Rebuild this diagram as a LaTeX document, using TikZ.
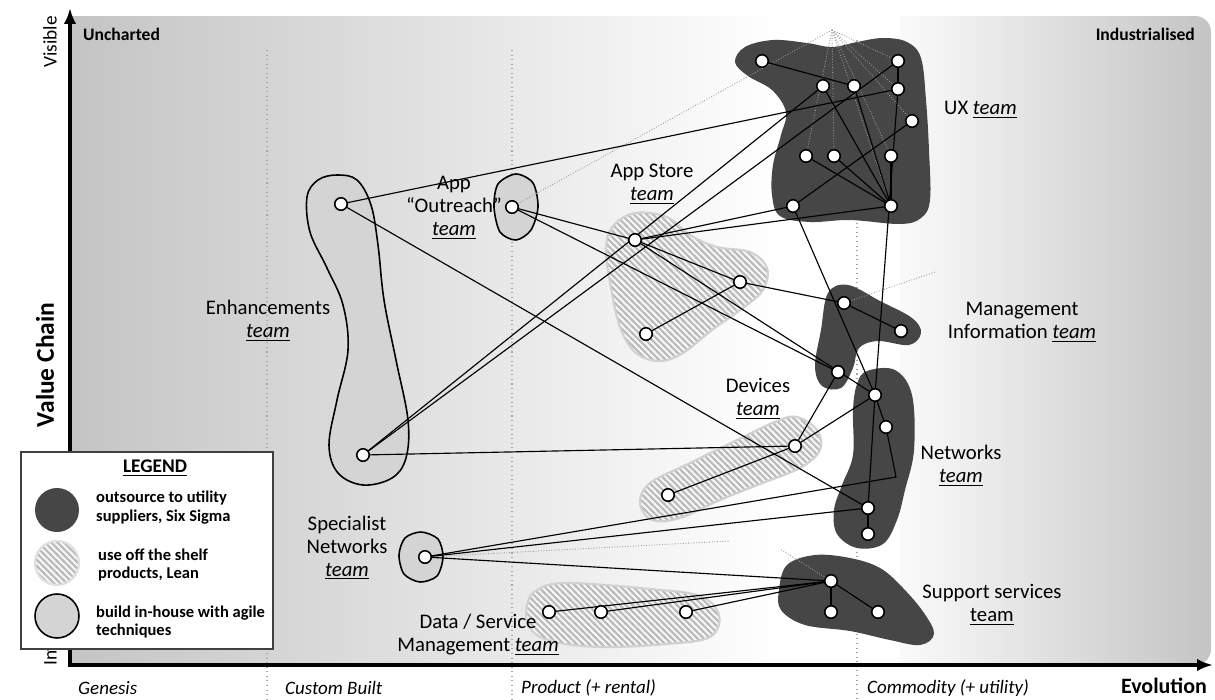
\documentclass[tikz,border=0pt]{standalone}
\usepackage{fontspec}
\setmainfont{Carlito}
\usetikzlibrary{arrows.meta,patterns}
\definecolor{utilgray}{RGB}{70,70,70}
\definecolor{agilegray}{RGB}{212,212,212}
\definecolor{edgegray}{RGB}{196,196,196}
\pgfdeclarepatternformonly{stripes}{\pgfqpoint{-1pt}{-1pt}}{\pgfqpoint{4.6pt}{4.6pt}}{\pgfqpoint{3.6pt}{3.6pt}}{%
  \pgfsetlinewidth{1.1pt}%
  \pgfpathmoveto{\pgfqpoint{-1pt}{4.6pt}}\pgfpathlineto{\pgfqpoint{4.6pt}{-1pt}}%
  \pgfusepath{stroke}}
\newcommand{\teamu}{\underline{\textit{team}}}

\begin{document}
\begin{tikzpicture}[x=0.02cm,y=-0.02cm,
comp/.style={circle,draw=black,line width=0.9pt,fill=white,minimum size=0.25cm,inner sep=0pt},
link/.style={black,line width=0.65pt},
faint/.style={black!40,line width=0.5pt,densely dotted},
stagesep/.style={black!35,line width=0.6pt,dotted},
utility/.style={fill=utilgray},
hatched/.style={preaction={fill=black!4},preaction={pattern=stripes,pattern color=black!27},
draw=black!18,line width=1.2pt},
inhouse/.style={fill=agilegray,draw=black,line width=0.9pt},
lbl/.style={font=\fontsize{11.8}{13}\selectfont,align=center},
stage/.style={font=\fontsize{10.8}{12}\selectfont\itshape,anchor=west},
axisarrow/.style={line width=1.8pt,line cap=rect,-{Latex[length=9pt,width=7pt]}},
legtext/.style={font=\fontsize{9.4}{10.8}\selectfont\bfseries,anchor=west,align=left},
legdot/.style={circle,minimum size=0.88cm,inner sep=0pt}]
\useasboundingbox (0,0) rectangle (1215,700);

% background
\shade[left color=white,right color=edgegray,rounded corners=9pt] (870,16) rectangle (1211,665);
\shade[left color=edgegray,right color=white] (72,16) rectangle (780,665);
\fill[white] (779,16) rectangle (900,665);
\draw[stagesep] (267,50) -- (267,700);
\draw[stagesep] (512,50) -- (512,700);
\draw[stagesep] (857,40) -- (857,700);

% axes
\coordinate (origin) at (70,665);
\draw[axisarrow] (origin) -- (70,8);
\draw[axisarrow] (origin) -- (1213,665);
\node[stage] (genesis) at (72,688) {Genesis};
\node[stage] (custom) at (279,688) {Custom Built};
\node[stage] (product) at (515,688) {Product (+ rental)};
\node[stage] (commodity) at (861,688) {Commodity (+ utility)};
\node[font=\fontsize{12.5}{14}\selectfont\bfseries,anchor=east,inner sep=1pt] (evolution) at (1209,686) {Evolution};
\node[font=\fontsize{10}{12}\selectfont\bfseries,anchor=west] (uncharted) at (77,34) {Uncharted};
\node[font=\fontsize{10}{12}\selectfont\bfseries,anchor=east] (industrial) at (1201,34) {Industrialised};
\node[font=\fontsize{11}{13}\selectfont,rotate=90] (visible) at (50,42) {Visible};
\node[font=\fontsize{11}{13}\selectfont,rotate=90,anchor=west] (invisible) at (50,672) {Invisible};
\node[font=\fontsize{14.5}{16}\selectfont\bfseries,rotate=90] (valuechain) at (45,365) {Value Chain};

% team areas
\fill[utility] plot[smooth cycle,tension=0.6] coordinates {(735,62) (745,47) (773,40) (807,43)
(832,47) (857,42) (883,38) (907,42) (921,58) (926,100) (929,150) (930,200) (921,218) (900,224)
(850,220) (810,222) (780,216) (772,195) (773,165) (781,135) (786,112) (772,90) (748,76)};
\fill[utility] plot[smooth cycle,tension=0.6] coordinates {(828,293) (848,285) (880,301) (912,318)
(921,333) (909,345) (878,341) (859,348) (853,368) (841,388) (822,386) (815,366) (821,330)};
\fill[utility] plot[smooth cycle,tension=0.6] coordinates {(867,371) (895,370) (912,395) (914,450)
(905,490) (897,520) (883,544) (857,548) (837,534) (834,510) (842,485) (853,455) (853,410) (857,384)};
\fill[utility] plot[smooth cycle,tension=0.6] coordinates {(779,590) (787,565) (815,555) (850,558)
(880,568) (903,588) (924,613) (934,634) (920,645) (890,640) (850,631) (805,625) (781,610)};
\path[inhouse] plot[smooth cycle,tension=0.6] coordinates {(337,175) (357,180) (371,205) (378,245)
(384,300) (396,360) (408,420) (406,458) (392,478) (363,485) (338,473) (329,445) (337,400)
(348,350) (343,305) (327,268) (310,232) (307,197) (318,180)};
\path[inhouse] plot[smooth cycle] coordinates {(516,174) (533,183) (538,207) (531,230) (516,240)
(500,232) (494,207) (498,184)};
\path[inhouse] plot[smooth cycle] coordinates {(421,532) (438,539) (443,557) (437,576) (420,582)
(404,574) (399,555) (405,538)};
\path[hatched] plot[smooth cycle,tension=0.6] coordinates {(613,226) (635,213) (667,217) (690,235)
(717,247) (750,252) (767,268) (763,290) (743,308) (712,330) (683,353) (660,361) (636,353)
(620,327) (610,282) (606,248)};
\path[hatched] plot[smooth cycle,tension=0.6] coordinates {(797,417) (817,430) (820,450) (800,468)
(760,484) (720,500) (680,518) (652,520) (640,503) (650,483) (690,463) (737,440) (777,421)};
\path[hatched] plot[smooth cycle,tension=0.6] coordinates {(537,590) (567,583) (650,589) (700,596)
(719,615) (710,637) (667,644) (600,647) (551,641) (529,627) (527,605)};

% components
\coordinate (ux1) at (762,61);  \coordinate (ux2) at (898,61);
\coordinate (ux3) at (823,86);  \coordinate (ux4) at (854,86);
\coordinate (ux5) at (898,89);  \coordinate (ux6) at (912,121);
\coordinate (ux7) at (806,156); \coordinate (ux8) at (834,156);
\coordinate (ux9) at (891,156); \coordinate (ux10) at (793,206);
\coordinate (ux11) at (891,206);
\coordinate (enh1) at (341,204); \coordinate (enh2) at (363,455);
\coordinate (out1) at (512,207);
\coordinate (spec1) at (425,557);
\coordinate (app1) at (635,240); \coordinate (app2) at (740,282); \coordinate (app3) at (646,334);
\coordinate (dev1) at (795,446); \coordinate (dev2) at (668,495);
\coordinate (dsm1) at (549,612); \coordinate (dsm2) at (601,612); \coordinate (dsm3) at (686,612);
\coordinate (mi1) at (844,303); \coordinate (mi2) at (901,331); \coordinate (mi3) at (838,372);
\coordinate (net1) at (875,395); \coordinate (net2) at (886,427);
\coordinate (net3) at (868,508); \coordinate (net4) at (868,534);
\coordinate (sup1) at (831,581); \coordinate (sup2) at (831,612); \coordinate (sup3) at (878,612);
\coordinate (bend) at (896,477);
\coordinate (fan) at (832,30);

% faint links
\foreach \n in {out1,ux2,ux5,ux6,ux7,ux8,ux9,ux11}
  \draw[faint] (fan) -- (\n);
\draw[faint] (mi1) -- (935,272);
\draw[faint] (spec1) -- (730,541);
\draw[faint] (sup1) -- (780,549);

% links
\foreach \a/\b in {ux1/ux4,ux2/ux5,ux3/ux11,ux4/ux11,ux7/ux11,ux8/ux11,ux9/ux11,ux6/ux10,
enh1/ux5,enh1/net3,enh2/ux3,enh2/ux2,enh2/dev1,out1/app1,out1/mi3,app1/app2,app1/ux10,
app1/ux11,app1/net1,app2/app3,app2/mi1,mi1/mi2,ux10/net1,ux5/net1,dev1/dev2,dev1/mi3,
dev1/net1,net1/net2,net1/net3,net3/net4,spec1/net3,spec1/sup1,dsm1/sup1,dsm2/sup1,
dsm3/sup1,sup1/sup2,sup1/sup3}
  \draw[link] (\a) -- (\b);
\draw[link] (spec1) -- (bend) -- (net2);

\foreach \n in {ux1,ux2,ux3,ux4,ux5,ux6,ux7,ux8,ux9,ux10,ux11,enh1,enh2,out1,spec1,app1,app2,
app3,dev1,dev2,dsm1,dsm2,dsm3,mi1,mi2,mi3,net1,net2,net3,net4,sup1,sup2,sup3}
  \node[comp] (c-\n) at (\n) {};

% team labels
\node[lbl,anchor=west] (uxlbl) at (938,110) {UX \teamu};
\node[lbl] (applbl) at (652,184) {App Store\\\teamu};
\node[lbl] (outlbl) at (454,208) {App\\“Outreach”\\\teamu};
\node[lbl] (enhlbl) at (268,321) {Enhancements\\\teamu};
\node[lbl] (milbl) at (1022,322) {Management\\Information \teamu};
\node[lbl] (devlbl) at (758,399) {Devices\\\teamu};
\node[lbl] (netlbl) at (961,466) {Networks\\\teamu};
\node[lbl] (speclbl) at (347,548) {Specialist\\Networks\\\teamu};
\node[lbl] (dsmlbl) at (478,635) {Data / Service\\Management \teamu};
\node[lbl] (suplbl) at (992,605) {Support services\\\underline{team}};

% legend
\node[draw=black!75,fill=white,line width=0.8pt,minimum width=5.04cm,minimum height=3.94cm,
inner sep=0pt] (legend) at (147,550.5) {};
\node[font=\fontsize{11}{13}\selectfont\bfseries] (legtitle) at (155,468) {\underline{LEGEND}};
\node[legdot,utility] (keyutil) at (57,510) {};
\node[legdot,hatched,draw=black!12] (keyprod) at (57,563) {};
\node[legdot,inhouse] (keyagile) at (57,616) {};
\node[legtext] (keyutiltext) at (90,508) {outsource to utility\\suppliers, Six Sigma};
\node[legtext] (keyprodtext) at (92,565) {use off the shelf\\products, Lean};
\node[legtext] (keyagiletext) at (90,622) {build in-house with agile\\techniques};
\end{tikzpicture}
\end{document}
